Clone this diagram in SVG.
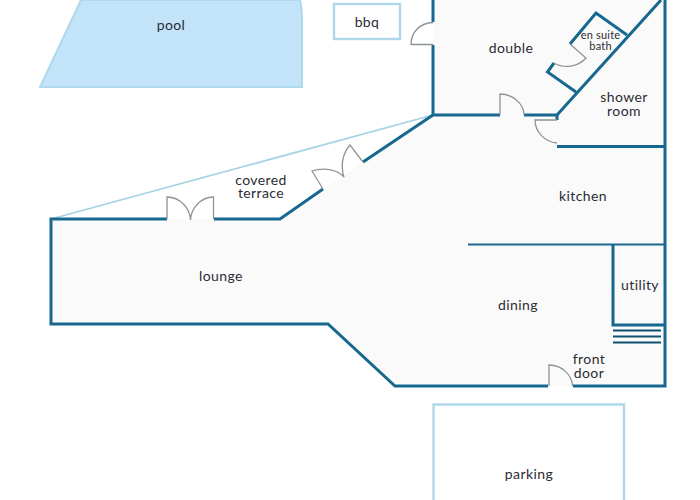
<svg xmlns="http://www.w3.org/2000/svg" width="700" height="500" viewBox="0 0 700 500">
<style>
text{font-family:"Lato","Liberation Sans",sans-serif;font-size:14px;fill:#2c2c34;text-anchor:middle;letter-spacing:.4px}
.small{font-size:11px;letter-spacing:.2px}
.wall{fill:none;stroke:#17688f;stroke-width:3;stroke-linejoin:miter;stroke-linecap:butt}
.thin{fill:none;stroke:#17688f;stroke-width:2.200}
.door{fill:none;stroke:#8f9396;stroke-width:1.300}
.out{fill:none;stroke:#aed8ea;stroke-width:2.400}
.stair{fill:none;stroke:#0f4f70;stroke-width:1.800}
</style>
<rect width="700" height="500" fill="#fff"/>
<g id="floor"><path d="M433 0H665V386H395L328 324H51V219H280L433 115Z" fill="#fafafa"/></g>
<g id="pool"><path d="M81 0H300Q302 8 302 20V87H40Z" fill="#c2e3f8" stroke="#aed8ee" stroke-width="2"/><text x="171" y="30">pool</text></g>
<g id="bbq"><rect x="334" y="4" width="66" height="35" class="out"/><text x="367" y="27">bbq</text></g>
<g id="parking"><path d="M433.500 500V404.500H624V500" class="out"/><text x="529" y="479">parking</text></g>
<g id="connectors">
<path d="M51 219L433 115" fill="none" stroke="#a5d3e3" stroke-width="1.800"/>
<path class="wall" d="M433 0V22M433 45V115H500M524 115H557L661 0M665 0V386H573M548 386H395L328 324H51V219H167M214 219H280L323 189M363 162L433 115"/>
<path class="wall" d="M557 115V120M557 146.500H665M613 244.500V325H665"/>
<path class="thin" d="M468 244.500H665"/>
<path class="wall" d="M576 92L547.500 72L554 63M570 44L596 13L627 35"/>
<path class="stair" d="M613 330.500H661M613 336.500H661M613 342.500H661"/>
</g>
<g id="doors">
<path class="door" d="M433 22.500C420 23 411 32 411 44.500H433"/>
<path class="door" d="M500 115V94C513 94 524 104 524 115"/>
<path class="door" d="M557 120H535C535 132 545 142 557 143"/>
<path class="door" d="M554 63C564 69 578 67 586 58L570 44"/>
<path class="door" d="M167 219V197C180 197 190 208 190.500 220C191 208 201 197 213.500 197V219"/>
<path class="door" d="M323 189L312 171C325 167 338 170 344 177C340 165 343 153 350 145L363 162"/>
<path class="door" d="M549 386V365C562 365 572 375 572.500 386"/>
</g>
<g id="double"><text x="511" y="53">double</text></g>
<g id="en-suite-bath"><text class="small" x="600.500" y="38.500">en suite</text><text class="small" x="600.500" y="50">bath</text></g>
<g id="shower-room"><text x="624" y="102">shower</text><text x="624" y="115.500">room</text></g>
<g id="kitchen"><text x="583" y="201">kitchen</text></g>
<g id="covered-terrace"><text x="261" y="184.500">covered</text><text x="261" y="198">terrace</text></g>
<g id="lounge"><text x="221" y="281">lounge</text></g>
<g id="dining"><text x="518" y="310">dining</text></g>
<g id="utility"><text x="640" y="290">utility</text></g>
<g id="front-door"><text x="589" y="364">front</text><text x="589" y="378">door</text></g>
</svg>
